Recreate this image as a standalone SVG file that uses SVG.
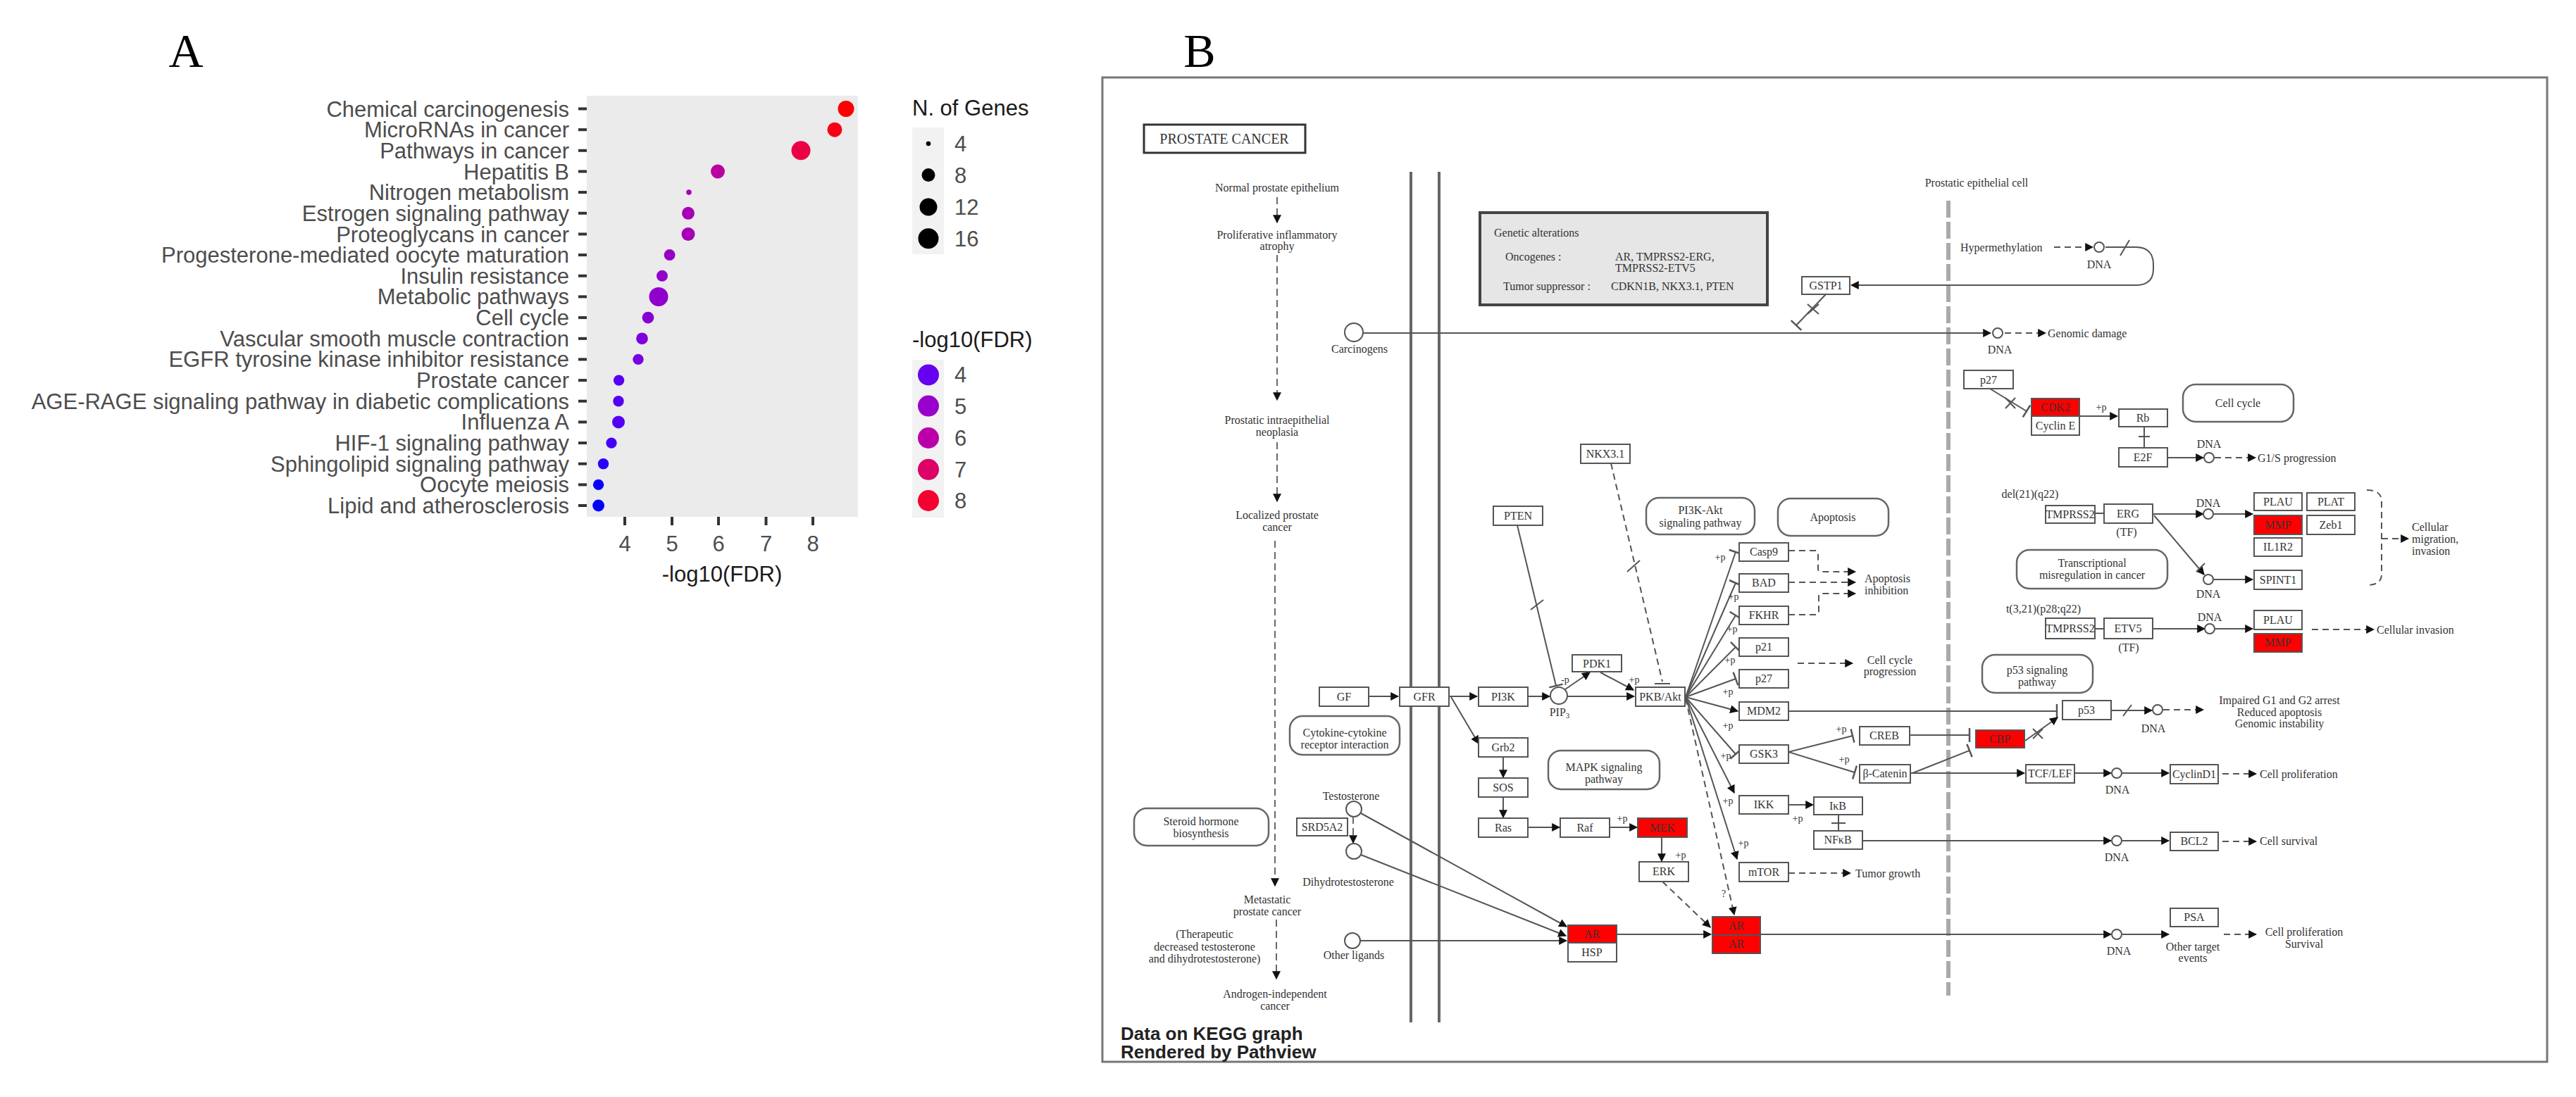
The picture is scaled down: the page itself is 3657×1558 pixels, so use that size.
<svg xmlns="http://www.w3.org/2000/svg" width="3657" height="1558" viewBox="0 0 3657 1558">
<defs>
<style>
.ax{font-family:"Liberation Sans",Arial,sans-serif;font-size:31px;fill:#4d4d4d}
.axe{font-family:"Liberation Sans",Arial,sans-serif;font-size:31px;fill:#4d4d4d;text-anchor:end}
.axm{font-family:"Liberation Sans",Arial,sans-serif;font-size:31px;fill:#4d4d4d;text-anchor:middle}
.ti{font-family:"Liberation Sans",Arial,sans-serif;font-size:31px;fill:#1a1a1a}
.pl{font-family:"Liberation Serif","Times New Roman",serif;font-size:68px;fill:#000;text-anchor:middle}
.b{fill:#fff;stroke:#555;stroke-width:2}
.r{fill:#ff0000;stroke:#555;stroke-width:2}
.rr{fill:#fff;stroke:#666;stroke-width:2.5}
.c{fill:#fff;stroke:#555;stroke-width:2}
.t{font-family:"Liberation Serif","Times New Roman",serif;font-size:16px;fill:#333;text-anchor:middle}
.ts{font-family:"Liberation Serif","Times New Roman",serif;font-size:16px;fill:#333}
.p{font-family:"Liberation Serif","Times New Roman",serif;font-size:14px;fill:#333;text-anchor:middle}
.l{stroke:#555;stroke-width:2;fill:none}
.d{stroke:#555;stroke-width:2;fill:none;stroke-dasharray:9 6}
.dl{stroke:#444;stroke-width:1.6;fill:none;stroke-dasharray:10 6}
.bold{font-family:"Liberation Sans",Arial,sans-serif;font-size:26px;font-weight:bold;fill:#222}
</style>
<marker id="a" viewBox="0 0 10 10" refX="9" refY="5" markerWidth="12" markerHeight="12" markerUnits="userSpaceOnUse" orient="auto"><path d="M0,0 L10,5 L0,10 z" fill="#111"/></marker>
<marker id="tb" viewBox="0 0 4 20" refX="2" refY="10" markerWidth="4" markerHeight="20" markerUnits="userSpaceOnUse" orient="auto"><path d="M2,0 V20" stroke="#555" stroke-width="2.5"/></marker>
</defs>
<rect width="3657" height="1558" fill="#fff"/>

<!-- Panel A -->
<g id="panelA">
<text class="pl" x="264" y="95">A</text>
<rect x="833" y="136" width="385" height="598" fill="#ebebeb"/>
<g id="yticks" stroke="#333" stroke-width="4">
<line x1="821" y1="154.5" x2="833" y2="154.5"/><line x1="821" y1="184.2" x2="833" y2="184.2"/><line x1="821" y1="213.8" x2="833" y2="213.8"/><line x1="821" y1="243.5" x2="833" y2="243.5"/><line x1="821" y1="273.1" x2="833" y2="273.1"/><line x1="821" y1="302.8" x2="833" y2="302.8"/><line x1="821" y1="332.5" x2="833" y2="332.5"/><line x1="821" y1="362.1" x2="833" y2="362.1"/><line x1="821" y1="391.8" x2="833" y2="391.8"/><line x1="821" y1="421.4" x2="833" y2="421.4"/><line x1="821" y1="451.1" x2="833" y2="451.1"/><line x1="821" y1="480.8" x2="833" y2="480.8"/><line x1="821" y1="510.4" x2="833" y2="510.4"/><line x1="821" y1="540.1" x2="833" y2="540.1"/><line x1="821" y1="569.7" x2="833" y2="569.7"/><line x1="821" y1="599.4" x2="833" y2="599.4"/><line x1="821" y1="629.1" x2="833" y2="629.1"/><line x1="821" y1="658.7" x2="833" y2="658.7"/><line x1="821" y1="688.4" x2="833" y2="688.4"/><line x1="821" y1="718" x2="833" y2="718"/>
</g>
<g id="ylabels">
<text class="axe" x="808" y="165.5">Chemical carcinogenesis</text>
<text class="axe" x="808" y="195.2">MicroRNAs in cancer</text>
<text class="axe" x="808" y="224.8">Pathways in cancer</text>
<text class="axe" x="808" y="254.5">Hepatitis B</text>
<text class="axe" x="808" y="284.1">Nitrogen metabolism</text>
<text class="axe" x="808" y="313.8">Estrogen signaling pathway</text>
<text class="axe" x="808" y="343.5">Proteoglycans in cancer</text>
<text class="axe" x="808" y="373.1">Progesterone-mediated oocyte maturation</text>
<text class="axe" x="808" y="402.8">Insulin resistance</text>
<text class="axe" x="808" y="432.4">Metabolic pathways</text>
<text class="axe" x="808" y="462.1">Cell cycle</text>
<text class="axe" x="808" y="491.8">Vascular smooth muscle contraction</text>
<text class="axe" x="808" y="521.4">EGFR tyrosine kinase inhibitor resistance</text>
<text class="axe" x="808" y="551.1">Prostate cancer</text>
<text class="axe" x="808" y="580.7">AGE-RAGE signaling pathway in diabetic complications</text>
<text class="axe" x="808" y="610.4">Influenza A</text>
<text class="axe" x="808" y="640.1">HIF-1 signaling pathway</text>
<text class="axe" x="808" y="669.7">Sphingolipid signaling pathway</text>
<text class="axe" x="808" y="699.4">Oocyte meiosis</text>
<text class="axe" x="808" y="729">Lipid and atherosclerosis</text>
</g>
<g id="dots">
<circle cx="1201" cy="154.5" r="11.5" fill="#ff0000"/>
<circle cx="1185" cy="184.2" r="10.5" fill="#fa0018"/>
<circle cx="1137" cy="213.8" r="13.5" fill="#ec0044"/>
<circle cx="1019" cy="243.5" r="10" fill="#bb00a2"/>
<circle cx="978" cy="273.1" r="3.8" fill="#a600b8"/>
<circle cx="977" cy="302.8" r="9" fill="#a600b8"/>
<circle cx="977" cy="332.5" r="9.5" fill="#a600b8"/>
<circle cx="950.6" cy="362.1" r="8" fill="#9800c6"/>
<circle cx="940" cy="391.8" r="8" fill="#9400ca"/>
<circle cx="935" cy="421.4" r="13.5" fill="#9000cd"/>
<circle cx="920" cy="451.1" r="8.4" fill="#8500d6"/>
<circle cx="911.5" cy="480.8" r="8.4" fill="#7e00dd"/>
<circle cx="906" cy="510.4" r="7.7" fill="#7800e2"/>
<circle cx="878.6" cy="540.1" r="7.7" fill="#5500f2"/>
<circle cx="878" cy="569.7" r="7.7" fill="#5500f2"/>
<circle cx="878" cy="599.4" r="9" fill="#5500f2"/>
<circle cx="868" cy="629.1" r="7.7" fill="#4400f7"/>
<circle cx="856.5" cy="658.7" r="7.7" fill="#2a00fc"/>
<circle cx="849.6" cy="688.4" r="7.7" fill="#0a00ff"/>
<circle cx="849.6" cy="718" r="8.4" fill="#0000ff"/>
</g>
<g id="xaxis">
<g stroke="#333" stroke-width="4"><line x1="887" y1="734" x2="887" y2="746"/><line x1="954" y1="734" x2="954" y2="746"/><line x1="1020" y1="734" x2="1020" y2="746"/><line x1="1087.5" y1="734" x2="1087.5" y2="746"/><line x1="1154" y1="734" x2="1154" y2="746"/></g>
<text class="axm" x="887" y="783">4</text><text class="axm" x="954" y="783">5</text><text class="axm" x="1020" y="783">6</text><text class="axm" x="1087.5" y="783">7</text><text class="axm" x="1154" y="783">8</text>
<text class="ti" x="1025" y="826" text-anchor="middle">-log10(FDR)</text>
</g>
<g id="legend-size">
<text class="ti" x="1295" y="164">N. of Genes</text>
<rect x="1295" y="181" width="45" height="180" fill="#f2f2f2"/>
<circle cx="1318" cy="204" r="3.3" fill="#000"/>
<circle cx="1318" cy="248.6" r="9.5" fill="#000"/>
<circle cx="1318" cy="294" r="12.5" fill="#000"/>
<circle cx="1318" cy="338.7" r="14.5" fill="#000"/>
<text class="ax" x="1355" y="215">4</text><text class="ax" x="1355" y="259.6">8</text><text class="ax" x="1355" y="305">12</text><text class="ax" x="1355" y="349.7">16</text>
</g>
<g id="legend-color">
<text class="ti" x="1295" y="493">-log10(FDR)</text>
<rect x="1295" y="511" width="45" height="224" fill="#f2f2f2"/>
<circle cx="1318" cy="532.4" r="15" fill="#6600ee"/>
<circle cx="1318" cy="576.6" r="15" fill="#9900cc"/>
<circle cx="1318" cy="622" r="15" fill="#bb00aa"/>
<circle cx="1318" cy="666.8" r="15" fill="#dd0066"/>
<circle cx="1318" cy="711" r="15" fill="#f50030"/>
<text class="ax" x="1355" y="543.4">4</text><text class="ax" x="1355" y="587.6">5</text><text class="ax" x="1355" y="633">6</text><text class="ax" x="1355" y="677.8">7</text><text class="ax" x="1355" y="722">8</text>
</g>
</g>

<!-- Panel B -->
<rect id="frameB" x="1565" y="110" width="2051" height="1398" fill="#fff" stroke="#777" stroke-width="3"/>
<text class="pl" x="1703" y="95">B</text>

<g id="static">
<g id="n-title"><rect x="1624" y="177" width="229" height="40" fill="#fff" stroke="#333" stroke-width="3"/><text class="t" x="1738" y="204" style="font-size:20px">PROSTATE CANCER</text></g>
<line x1="2003" y1="244" x2="2003" y2="1452" stroke="#666" stroke-width="4"/>
<line x1="2043" y1="244" x2="2043" y2="1452" stroke="#666" stroke-width="4"/>
<line x1="2766" y1="285" x2="2766" y2="1414" stroke="#aaa" stroke-width="6" stroke-dasharray="24 6"/>
<text class="t" x="2806" y="265">Prostatic epithelial cell</text>
<g id="n-genetic"><rect x="2101" y="302" width="408" height="131" fill="#e6e6e6" stroke="#444" stroke-width="4"/>
<text class="ts" x="2121" y="336">Genetic alterations</text>
<text class="ts" x="2137" y="370">Oncogenes :</text>
<text class="ts" x="2293" y="370">AR, TMPRSS2-ERG,</text>
<text class="ts" x="2293" y="386">TMPRSS2-ETV5</text>
<text class="ts" x="2134" y="412">Tumor suppressor :</text>
<text class="ts" x="2287" y="412">CDKN1B, NKX3.1, PTEN</text></g>
<g id="stages">
<text class="t" x="1813" y="272">Normal prostate epithelium</text>
<text class="t" x="1813" y="339">Proliferative inflammatory</text><text class="t" x="1813" y="355">atrophy</text>
<text class="t" x="1813" y="602">Prostatic intraepithelial</text><text class="t" x="1813" y="619">neoplasia</text>
<text class="t" x="1813" y="737">Localized prostate</text><text class="t" x="1813" y="754">cancer</text>
<text class="t" x="1799" y="1283">Metastatic</text><text class="t" x="1799" y="1300">prostate cancer</text>
<text class="t" x="1710" y="1332">(Therapeutic</text><text class="t" x="1710" y="1350">decreased testosterone</text><text class="t" x="1710" y="1367">and dihydrotestosterone)</text>
<text class="t" x="1810" y="1417">Androgen-independent</text><text class="t" x="1810" y="1434">cancer</text>
</g>
<text class="bold" x="1591" y="1477">Data on KEGG graph</text>
<text class="bold" x="1591" y="1503">Rendered by Pathview</text>
</g>

<g id="edges">
<path class="dl" d="M1813,280 V316" marker-end="url(#a)"/>
<path class="dl" d="M1813,362 V568" marker-end="url(#a)"/>
<path class="dl" d="M1813,628 V712" marker-end="url(#a)"/>
<path class="dl" d="M1810,768 V1258" marker-end="url(#a)"/>
<path class="dl" d="M1812,1306 V1390" marker-end="url(#a)"/>
<path class="l" d="M1935,473 H2826" marker-end="url(#a)"/>
<path class="d" d="M2846,473 H2904" marker-end="url(#a)"/>
<path class="d" d="M2916,351 H2971" marker-end="url(#a)"/>
<path class="l" d="M2989,351 H3032 Q3057,351 3057,376 V382 Q3057,405 3032,405 H2628" marker-end="url(#a)"/>
<path class="l" d="M3010,363 L3023,341"/>
<path class="l" d="M2592,418 L2550,462" marker-end="url(#tb)"/>
<path class="l" d="M2566,432 L2582,446 M2582,432 L2566,446"/>
<path class="l" d="M2825,552 L2877,584" marker-end="url(#tb)"/>
<path class="l" d="M2847,565 L2861,580 M2861,565 L2847,580"/>
<path class="l" d="M2952,591 H3006" marker-end="url(#a)"/>
<path class="l" d="M3044,606 V636 M3036,620 H3052"/>
<path class="l" d="M3077,650 H3128" marker-end="url(#a)"/>
<path class="d" d="M3144,650 H3202" marker-end="url(#a)"/>
<path class="l" d="M2974,729 H2987"/>
<path class="l" d="M3056,730 H3128" marker-end="url(#a)"/>
<path class="l" d="M3142,730 H3198" marker-end="url(#a)"/>
<path class="l" d="M3058,732 L3129,816" marker-end="url(#a)"/>
<path class="l" d="M3118,812 L3130,800"/>
<path class="l" d="M3142,823 H3198" marker-end="url(#a)"/>
<path class="d" d="M3360,696 Q3381,696 3381,712 V816 Q3381,831 3360,831"/>
<path class="d" d="M3381,765 H3419" marker-end="url(#a)"/>
<path class="l" d="M2974,893 H2987"/>
<path class="l" d="M3056,893 H3130" marker-end="url(#a)"/>
<path class="l" d="M3144,893 H3198" marker-end="url(#a)"/>
<path class="d" d="M3282,894 H3370" marker-end="url(#a)"/>
<path class="l" d="M2154,746 L2209,974" marker-end="url(#tb)"/>
<path class="l" d="M2173,866 L2191,852"/>
<path class="d" d="M2287,658 L2360,968"/>
<path class="l" d="M2349,971 H2371"/>
<path class="l" d="M2310,812 L2328,796"/>
<path class="l" d="M1943,989 H1985" marker-end="url(#a)"/>
<path class="l" d="M2057,989 H2097" marker-end="url(#a)"/>
<path class="l" d="M2169,989 H2200" marker-end="url(#a)"/>
<path class="l" d="M2222,979 L2257,955" marker-end="url(#a)"/>
<path class="l" d="M2272,955 L2319,980" marker-end="url(#a)"/>
<path class="l" d="M2225,989 H2320" marker-end="url(#a)"/>
<path class="l" d="M2393,990 L2464,784" marker-end="url(#tb)"/>
<path class="l" d="M2393,990 L2464,828" marker-end="url(#tb)"/>
<path class="l" d="M2393,990 L2464,874" marker-end="url(#tb)"/>
<path class="l" d="M2393,990 L2464,919" marker-end="url(#tb)"/>
<path class="l" d="M2393,990 L2464,964" marker-end="url(#tb)"/>
<path class="l" d="M2393,990 L2467,1010" marker-end="url(#a)"/>
<path class="l" d="M2393,990 L2464,1071" marker-end="url(#tb)"/>
<path class="l" d="M2393,990 L2462,1126" marker-end="url(#a)"/>
<path class="l" d="M2393,990 L2466,1220" marker-end="url(#a)"/>
<path class="d" d="M2393,992 L2462,1299" marker-end="url(#a)"/>
<path class="d" d="M2539,782 H2577 Q2581,782 2581,786 V808 Q2581,812 2585,812 H2634" marker-end="url(#a)"/>
<path class="d" d="M2539,827 H2634" marker-end="url(#a)"/>
<path class="d" d="M2539,873 H2578 Q2582,873 2582,869 V847 Q2582,843 2586,843 H2634" marker-end="url(#a)"/>
<path class="d" d="M2552,942 H2630" marker-end="url(#a)"/>
<path class="l" d="M2539,1010 H2920" marker-end="url(#tb)"/>
<path class="l" d="M2997,1009 H3055" marker-end="url(#a)"/>
<path class="l" d="M3014,1017 L3026,1001"/>
<path class="d" d="M3071,1008 H3128" marker-end="url(#a)"/>
<path class="l" d="M2539,1068 L2630,1045" marker-end="url(#tb)"/>
<path class="l" d="M2539,1068 L2633,1097" marker-end="url(#tb)"/>
<path class="l" d="M2711,1044 H2796" marker-end="url(#tb)"/>
<path class="l" d="M2715,1098 L2796,1066" marker-end="url(#tb)"/>
<path class="l" d="M2875,1052 L2921,1019" marker-end="url(#a)"/>
<path class="l" d="M2886,1035 L2900,1049 M2900,1035 L2886,1049"/>
<path class="l" d="M2713,1098 H2874" marker-end="url(#a)"/>
<path class="l" d="M2945,1098 H2997" marker-end="url(#a)"/>
<path class="l" d="M3013,1098 H3079" marker-end="url(#a)"/>
<path class="d" d="M3155,1099 H3203" marker-end="url(#a)"/>
<path class="l" d="M2539,1143 H2574" marker-end="url(#a)"/>
<path class="l" d="M2610,1157 V1180 M2600,1169 H2620"/>
<path class="l" d="M2644,1194 H2997" marker-end="url(#a)"/>
<path class="l" d="M3013,1194 H3079" marker-end="url(#a)"/>
<path class="d" d="M3155,1195 H3203" marker-end="url(#a)"/>
<path class="d" d="M2539,1240 H2627" marker-end="url(#a)"/>
<path class="l" d="M2060,990 L2099,1056" marker-end="url(#a)"/>
<path class="l" d="M2134,1075 V1104" marker-end="url(#a)"/>
<path class="l" d="M2134,1132 V1161" marker-end="url(#a)"/>
<path class="l" d="M2169,1175 H2214" marker-end="url(#a)"/>
<path class="l" d="M2285,1175 H2324" marker-end="url(#a)"/>
<path class="l" d="M2359,1189 V1223" marker-end="url(#a)"/>
<path class="d" d="M2360,1252 L2428,1317" marker-end="url(#a)"/>
<path class="dl" d="M1921,1160 V1197" marker-end="url(#a)"/>
<path class="l" d="M1932,1155 L2224,1316" marker-end="url(#a)"/>
<path class="l" d="M1932,1214 L2223,1329" marker-end="url(#a)"/>
<path class="l" d="M1931,1336 H2224" marker-end="url(#a)"/>
<path class="l" d="M2295,1327 H2429" marker-end="url(#a)"/>
<path class="l" d="M2499,1327 H2997" marker-end="url(#a)"/>
<path class="l" d="M3013,1327 H3079" marker-end="url(#a)"/>
<path class="d" d="M3157,1327 H3203" marker-end="url(#a)"/>
</g>

<g id="labels-edge">
<text class="p" x="2983" y="583">+p</text>
<text class="p" x="2222" y="970">-p</text>
<text class="p" x="2320" y="970">+p</text>
<text class="p" x="2442" y="796">+p</text>
<text class="p" x="2461" y="852">+p</text>
<text class="p" x="2459" y="898">+p</text>
<text class="p" x="2456" y="942">+p</text>
<text class="p" x="2453" y="987">+p</text>
<text class="p" x="2453" y="1035">+p</text>
<text class="p" x="2450" y="1078">+p</text>
<text class="p" x="2453" y="1142">+p</text>
<text class="p" x="2475" y="1202">+p</text>
<text class="p" x="2447" y="1274">?</text>
<text class="p" x="2614" y="1040">+p</text>
<text class="p" x="2618" y="1083">+p</text>
<text class="p" x="2552" y="1167">+p</text>
<text class="p" x="2303" y="1167">+p</text>
<text class="p" x="2386" y="1219">+p</text>
</g>

<g id="nodes">
<g id="n-carc"><circle class="c" cx="1922" cy="472" r="13"/><text class="t" x="1930" y="501">Carcinogens</text></g>
<g id="n-dna1"><circle class="c" cx="2836" cy="473" r="7"/><text class="t" x="2839" y="502">DNA</text></g>
<text class="ts" x="2907" y="479">Genomic damage</text>
<g id="n-gstp1"><rect class="b" x="2558" y="393" width="68" height="25"/><text class="t" x="2592" y="411">GSTP1</text></g>
<text class="ts" x="2783" y="357">Hypermethylation</text>
<g id="n-dna0"><circle class="c" cx="2980" cy="351" r="7"/><text class="t" x="2980" y="381">DNA</text></g>

<g id="n-p27a"><rect class="b" x="2788" y="526" width="70" height="26"/><text class="t" x="2823" y="545">p27</text></g>
<g id="n-cdk2"><rect class="r" x="2884" y="566" width="68" height="25"/><text class="t" x="2918" y="584">CDK2</text><rect class="b" x="2884" y="591" width="68" height="27"/><text class="t" x="2918" y="610">Cyclin E</text></g>
<g id="n-rb"><rect class="b" x="3008" y="581" width="69" height="25"/><text class="t" x="3042" y="599">Rb</text></g>
<g id="n-e2f"><rect class="b" x="3008" y="636" width="69" height="27"/><text class="t" x="3042" y="655">E2F</text></g>
<g id="n-dna2"><circle class="c" cx="3136" cy="650" r="7"/><text class="t" x="3136" y="636">DNA</text></g>
<text class="ts" x="3205" y="656">G1/S progression</text>
<g id="n-cellcycle"><rect class="rr" x="3099" y="546" width="157" height="53" rx="18"/><text class="t" x="3177" y="578">Cell cycle</text></g>

<text class="t" x="2882" y="707">del(21)(q22)</text>
<g id="n-tmprss2a"><rect class="b" x="2904" y="718" width="70" height="25"/><text class="t" x="2939" y="736">TMPRSS2</text></g>
<g id="n-erg"><rect class="b" x="2987" y="716" width="69" height="27"/><text class="t" x="3021" y="735">ERG</text><text class="t" x="3019" y="761">(TF)</text></g>
<g id="n-dna3"><circle class="c" cx="3135" cy="730" r="7"/><text class="t" x="3135" y="720">DNA</text></g>
<g id="n-plau1"><rect class="b" x="3200" y="700" width="68" height="25"/><text class="t" x="3234" y="718">PLAU</text></g>
<g id="n-plat"><rect class="b" x="3275" y="700" width="68" height="25"/><text class="t" x="3309" y="718">PLAT</text></g>
<g id="n-mmp1"><rect class="r" x="3200" y="732" width="68" height="27"/><text class="t" x="3234" y="751">MMP</text></g>
<g id="n-zeb1"><rect class="b" x="3275" y="732" width="68" height="27"/><text class="t" x="3309" y="751">Zeb1</text></g>
<g id="n-il1r2"><rect class="b" x="3200" y="764" width="68" height="26"/><text class="t" x="3234" y="782">IL1R2</text></g>
<g id="n-dna4"><circle class="c" cx="3135" cy="823" r="7"/><text class="t" x="3135" y="849">DNA</text></g>
<g id="n-spint1"><rect class="b" x="3200" y="810" width="68" height="27"/><text class="t" x="3234" y="829">SPINT1</text></g>
<text class="ts" x="3424" y="754">Cellular</text><text class="ts" x="3424" y="771">migration,</text><text class="ts" x="3424" y="788">invasion</text>
<g id="n-transmis"><rect class="rr" x="2863" y="781" width="214" height="55" rx="18"/><text class="t" x="2970" y="805">Transcriptional</text><text class="t" x="2970" y="822">misregulation in cancer</text></g>

<text class="t" x="2901" y="870">t(3,21)(p28;q22)</text>
<g id="n-tmprss2b"><rect class="b" x="2904" y="878" width="70" height="29"/><text class="t" x="2939" y="898">TMPRSS2</text></g>
<g id="n-etv5"><rect class="b" x="2987" y="878" width="69" height="29"/><text class="t" x="3021" y="898">ETV5</text><text class="t" x="3022" y="925">(TF)</text></g>
<g id="n-dna5"><circle class="c" cx="3137" cy="893" r="7"/><text class="t" x="3137" y="882">DNA</text></g>
<g id="n-plau2"><rect class="b" x="3200" y="867" width="68" height="27"/><text class="t" x="3234" y="886">PLAU</text></g>
<g id="n-mmp2"><rect class="r" x="3200" y="900" width="68" height="26"/><text class="t" x="3234" y="918">MMP</text></g>
<text class="ts" x="3374" y="900">Cellular invasion</text>
<g id="n-p53path"><rect class="rr" x="2814" y="930" width="157" height="54" rx="18"/><text class="t" x="2892" y="957">p53 signaling</text><text class="t" x="2892" y="974">pathway</text></g>

<g id="n-apoptosis"><rect class="rr" x="2524" y="708" width="157" height="53" rx="18"/><text class="t" x="2602" y="740">Apoptosis</text></g>
<text class="ts" x="2647" y="827">Apoptosis</text><text class="ts" x="2647" y="844">inhibition</text>
<text class="t" x="2683" y="943">Cell cycle</text><text class="t" x="2683" y="959">progression</text>

<g id="n-pten"><rect class="b" x="2120" y="719" width="70" height="27"/><text class="t" x="2155" y="738">PTEN</text></g>
<g id="n-pi3kakt"><rect class="rr" x="2337" y="707" width="154" height="52" rx="18"/><text class="t" x="2414" y="730">PI3K-Akt</text><text class="t" x="2414" y="748">signaling pathway</text></g>
<g id="n-nkx31"><rect class="b" x="2244" y="631" width="70" height="27"/><text class="t" x="2279" y="650">NKX3.1</text></g>

<g id="n-gf"><rect class="b" x="1873" y="976" width="70" height="27"/><text class="t" x="1908" y="995">GF</text></g>
<g id="n-gfr"><rect class="b" x="1987" y="976" width="70" height="27"/><text class="t" x="2022" y="995">GFR</text></g>
<g id="n-pi3k"><rect class="b" x="2099" y="976" width="70" height="27"/><text class="t" x="2134" y="995">PI3K</text></g>
<g id="n-pip3"><circle class="c" cx="2213" cy="988" r="12"/><text class="t" x="2214" y="1017">PIP<tspan font-size="11" dy="3">3</tspan></text></g>
<g id="n-pdk1"><rect class="b" x="2232" y="930" width="70" height="24"/><text class="t" x="2267" y="948">PDK1</text></g>
<g id="n-akt"><rect class="b" x="2322" y="976" width="70" height="27"/><text class="t" x="2357" y="995">PKB/Akt</text></g>

<g id="n-casp9"><rect class="b" x="2469" y="771" width="70" height="26"/><text class="t" x="2504" y="789">Casp9</text></g>
<g id="n-bad"><rect class="b" x="2469" y="815" width="70" height="26"/><text class="t" x="2504" y="833">BAD</text></g>
<g id="n-fkhr"><rect class="b" x="2469" y="861" width="70" height="26"/><text class="t" x="2504" y="879">FKHR</text></g>
<g id="n-p21"><rect class="b" x="2469" y="906" width="70" height="26"/><text class="t" x="2504" y="924">p21</text></g>
<g id="n-p27b"><rect class="b" x="2469" y="951" width="70" height="26"/><text class="t" x="2504" y="969">p27</text></g>
<g id="n-mdm2"><rect class="b" x="2469" y="997" width="70" height="26"/><text class="t" x="2504" y="1015">MDM2</text></g>
<g id="n-gsk3"><rect class="b" x="2469" y="1058" width="70" height="26"/><text class="t" x="2504" y="1076">GSK3</text></g>
<g id="n-ikk"><rect class="b" x="2469" y="1130" width="70" height="26"/><text class="t" x="2504" y="1148">IKK</text></g>
<g id="n-mtor"><rect class="b" x="2469" y="1225" width="70" height="27"/><text class="t" x="2504" y="1244">mTOR</text></g>
<text class="ts" x="2634" y="1246">Tumor growth</text>

<g id="n-p53"><rect class="b" x="2928" y="995" width="69" height="27"/><text class="t" x="2962" y="1014">p53</text></g>
<g id="n-dna6"><circle class="c" cx="3063" cy="1008" r="7"/><text class="t" x="3057" y="1040">DNA</text></g>
<text class="t" x="3236" y="1000">Impaired G1 and G2 arrest</text><text class="t" x="3236" y="1017">Reduced apoptosis</text><text class="t" x="3236" y="1033">Genomic instability</text>
<g id="n-creb"><rect class="b" x="2640" y="1032" width="71" height="26"/><text class="t" x="2675" y="1050">CREB</text></g>
<g id="n-bcat"><rect class="b" x="2640" y="1086" width="72" height="26"/><text class="t" x="2676" y="1104">β-Catenin</text></g>
<g id="n-cbp"><rect class="r" x="2805" y="1037" width="69" height="25"/><text class="t" x="2839" y="1055">CBP</text></g>
<g id="n-tcf"><rect class="b" x="2876" y="1086" width="69" height="26"/><text class="t" x="2910" y="1104">TCF/LEF</text></g>
<g id="n-dna7"><circle class="c" cx="3005" cy="1098" r="7"/><text class="t" x="3006" y="1127">DNA</text></g>
<g id="n-cycd1"><rect class="b" x="3081" y="1086" width="68" height="27"/><text class="t" x="3115" y="1105">CyclinD1</text></g>
<text class="ts" x="3208" y="1105">Cell proliferation</text>
<g id="n-ikb"><rect class="b" x="2575" y="1132" width="69" height="25"/><text class="t" x="2609" y="1150">IκB</text></g>
<g id="n-nfkb"><rect class="b" x="2575" y="1180" width="69" height="26"/><text class="t" x="2609" y="1198">NFκB</text></g>
<g id="n-dna8"><circle class="c" cx="3005" cy="1194" r="7"/><text class="t" x="3005" y="1223">DNA</text></g>
<g id="n-bcl2"><rect class="b" x="3081" y="1182" width="68" height="26"/><text class="t" x="3115" y="1200">BCL2</text></g>
<text class="ts" x="3208" y="1200">Cell survival</text>

<g id="n-cytokine"><rect class="rr" x="1831" y="1017" width="156" height="55" rx="18"/><text class="t" x="1909" y="1046">Cytokine-cytokine</text><text class="t" x="1909" y="1063">receptor interaction</text></g>
<g id="n-grb2"><rect class="b" x="2099" y="1048" width="70" height="27"/><text class="t" x="2134" y="1067">Grb2</text></g>
<g id="n-sos"><rect class="b" x="2099" y="1105" width="70" height="27"/><text class="t" x="2134" y="1124">SOS</text></g>
<g id="n-ras"><rect class="b" x="2099" y="1162" width="70" height="27"/><text class="t" x="2134" y="1181">Ras</text></g>
<g id="n-raf"><rect class="b" x="2215" y="1162" width="70" height="27"/><text class="t" x="2250" y="1181">Raf</text></g>
<g id="n-mek"><rect class="r" x="2325" y="1162" width="70" height="27"/><text class="t" x="2360" y="1181">MEK</text></g>
<g id="n-erk"><rect class="b" x="2327" y="1224" width="70" height="28"/><text class="t" x="2362" y="1243">ERK</text></g>
<g id="n-mapk"><rect class="rr" x="2198" y="1066" width="158" height="55" rx="18"/><text class="t" x="2277" y="1095">MAPK signaling</text><text class="t" x="2277" y="1112">pathway</text></g>

<g id="n-steroid"><rect class="rr" x="1610" y="1148" width="191" height="53" rx="18"/><text class="t" x="1705" y="1172">Steroid hormone</text><text class="t" x="1705" y="1189">biosynthesis</text></g>
<g id="n-srd5a2"><rect class="b" x="1841" y="1162" width="72" height="25"/><text class="t" x="1877" y="1180">SRD5A2</text></g>
<g id="n-testo"><circle class="c" cx="1922" cy="1149" r="11"/><text class="t" x="1918" y="1136">Testosterone</text></g>
<g id="n-dht"><circle class="c" cx="1922" cy="1209" r="11"/><text class="t" x="1914" y="1258">Dihydrotestosterone</text></g>
<g id="n-other"><circle class="c" cx="1920" cy="1336" r="11"/><text class="t" x="1922" y="1362">Other ligands</text></g>
<g id="n-arhsp"><rect class="r" x="2226" y="1314" width="69" height="25"/><text class="t" x="2260" y="1332">AR</text><rect class="b" x="2226" y="1339" width="69" height="27"/><text class="t" x="2260" y="1358">HSP</text></g>
<g id="n-arar"><rect class="r" x="2431" y="1302" width="68" height="52"/><line x1="2431" y1="1328" x2="2499" y2="1328" stroke="#555" stroke-width="2"/><text class="t" x="2465" y="1320">AR</text><text class="t" x="2465" y="1346">AR</text></g>
<g id="n-dna9"><circle class="c" cx="3005" cy="1327" r="7"/><text class="t" x="3008" y="1356">DNA</text></g>
<g id="n-psa"><rect class="b" x="3081" y="1290" width="68" height="26"/><text class="t" x="3115" y="1308">PSA</text><text class="t" x="3113" y="1350">Other target</text><text class="t" x="3113" y="1366">events</text></g>
<text class="t" x="3271" y="1329">Cell proliferation</text><text class="t" x="3271" y="1346">Survival</text>
</g>
</svg>
